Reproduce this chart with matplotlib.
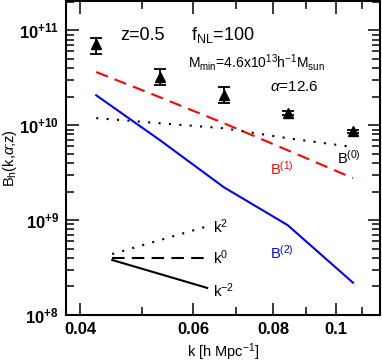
import matplotlib
matplotlib.use("Agg")
import matplotlib.pyplot as plt
from matplotlib.ticker import FixedLocator, NullFormatter, LogLocator

plt.rcParams["font.family"] = ["Liberation Sans", "DejaVu Sans"]
plt.rcParams["mathtext.fontset"] = "custom"
plt.rcParams["mathtext.rm"] = "Liberation Sans"
plt.rcParams["mathtext.it"] = "Liberation Sans:italic"
plt.rcParams["mathtext.bf"] = "Liberation Sans:bold"

# =========================
# data
# =========================
k = [0.0424, 0.0533, 0.0670, 0.0842, 0.1064]

b_sim = [7.24e10, 3.22e10, 2.07e10, 1.36e10, 8.65e9]
b_sim_lo = [5.69e10, 2.64e10, 1.72e10, 1.28e10, 8.30e9]
b_sim_hi = [8.38e10, 3.95e10, 2.53e10, 1.43e10, 9.00e9]

b0 = [1.19e10, 1.05e10, 9.3e9, 7.3e9, 5.9e9]
b1 = [3.64e10, 1.97e10, 1.05e10, 5.45e9, 2.77e9]
b2 = [2.07e10, 6.95e9, 2.22e9, 8.85e8, 2.19e8]

# slope guide lines (two end points each)
guide_k = [0.0449, 0.0631]
guide_k2 = [4.39e8, 8.6e8]
guide_k0 = [4.0e8, 4.0e8]
guide_km2 = [3.8e8, 1.93e8]

x_ticks = [0.04, 0.06, 0.08, 0.1]
x_ticklabels = ["0.04", "0.06", "0.08", "0.1"]
x_minor = [0.05, 0.07, 0.09, 0.11]
y_ticks = [1e8, 1e9, 1e10, 1e11]
y_ticklabels = [r"$\mathbf{10^{+8}}$", r"$\mathbf{10^{+9}}$",
                r"$\mathbf{10^{+10}}$", r"$\mathbf{10^{+11}}$"]

fig = plt.figure(figsize=(3.82, 3.64), dpi=100)
ax = fig.add_axes([66 / 382, 49 / 364, 314 / 382, 314 / 364])

lw = 1.5
ax.plot(k, b0, color="black", lw=lw, linestyle=(0, (1, 4)))
ax.plot(k, b1, color="red", lw=lw, linestyle=(0, (6, 3.5)))
ax.plot(k, b2, color="blue", lw=lw)

err = [[b - lo for b, lo in zip(b_sim, b_sim_lo)],
       [hi - b for b, hi in zip(b_sim, b_sim_hi)]]
ax.errorbar(k, b_sim, yerr=err, fmt="^", color="black", ms=7,
            capsize=4.5, elinewidth=1.3, capthick=1.3)

ax.plot(guide_k, guide_k2, color="black", lw=lw, linestyle=(0, (1, 4)))
ax.plot(guide_k, guide_k0, color="black", lw=lw, linestyle=(0, (6, 3.5)))
ax.plot(guide_k, guide_km2, color="black", lw=lw)

ax.set_xscale("log")
ax.set_yscale("log")
ax.set_xlim(0.03805, 0.1172)
ax.set_ylim(1e8, 10 ** 11.31)

ax.xaxis.set_major_locator(FixedLocator(x_ticks))
ax.set_xticklabels(x_ticklabels, fontweight="bold", fontsize=12)
ax.xaxis.set_minor_locator(FixedLocator(x_minor))
ax.xaxis.set_minor_formatter(NullFormatter())

ax.yaxis.set_major_locator(FixedLocator(y_ticks))
ax.set_yticklabels(y_ticklabels, fontsize=12)
ax.yaxis.set_minor_locator(LogLocator(base=10, subs=range(2, 10)))
ax.yaxis.set_minor_formatter(NullFormatter())

ax.tick_params(which="both", direction="in", top=True, right=True, width=1.1)
ax.tick_params(which="major", length=9, pad=5)
ax.tick_params(which="minor", length=5.5)
for s in ax.spines.values():
    s.set_linewidth(1.5)

ax.set_xlabel(r"k [h Mpc$^{-1}$]", fontsize=10.5, labelpad=3)
ax.set_ylabel(r"B$_{\rm h}$(k,$\alpha$;z)", fontsize=10.5, labelpad=0)

ax.text(0.0462, 10 ** 10.95, "z=0.5", fontsize=13, va="center")
ax.text(0.0595, 10 ** 10.95, r"f$_{\rm NL}$=100", fontsize=13, va="center")
ax.text(0.0590, 10 ** 10.665,
        r"M$_{\rm min}$=4.6x10$^{13}$h$^{-1}$M$_{\rm sun}$", fontsize=10, va="center")
ax.text(0.0790, 10 ** 10.40, r"$\alpha$=12.6", fontsize=11, va="center")
ax.text(0.1005, 10 ** 9.66, r"B$^{(0)}$", fontsize=10.5, va="center")
ax.text(0.0790, 10 ** 9.54, r"B$^{(1)}$", fontsize=10.5, va="center", color="red")
ax.text(0.0790, 10 ** 8.66, r"B$^{(2)}$", fontsize=10.5, va="center", color="blue")

ax.text(0.0645, 8.6e8, r"k$^{2}$", fontsize=11, va="center")
ax.text(0.0645, 4.0e8, r"k$^{0}$", fontsize=11, va="center")
ax.text(0.0645, 1.8e8, r"k$^{-2}$", fontsize=11, va="center")

fig.savefig("out.png", dpi=100)
